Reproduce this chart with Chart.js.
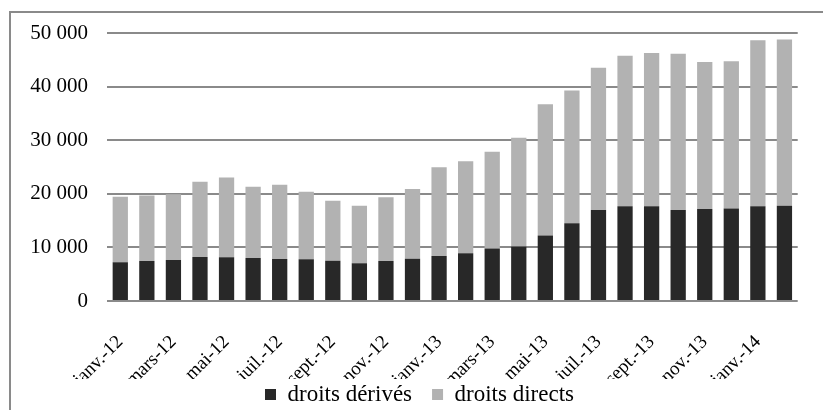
<!DOCTYPE html>
<html><head><meta charset="utf-8">
<script src="https://cdn.jsdelivr.net/npm/chart.js@4"></script>
<style>
html,body{margin:0;padding:0;background:#fff;}
#wrap{position:relative;width:823px;height:410px;overflow:hidden;}
#frame{position:absolute;left:9px;top:11px;width:830px;height:420px;border-left:2px solid #8a8a8a;border-top:2px solid #8a8a8a;}
canvas{position:absolute;left:0;top:0;}
</style></head>
<body><div id="wrap"><div id="frame"></div><canvas id="c" width="823" height="410"></canvas></div>
<script>
const categories = ["janv.-12","févr.-12","mars-12","avr.-12","mai-12","juin-12","juil.-12","août-12","sept.-12","oct.-12","nov.-12","déc.-12",
"janv.-13","févr.-13","mars-13","avr.-13","mai-13","juin-13","juil.-13","août-13","sept.-13","oct.-13","nov.-13","déc.-13","janv.-14","févr.-14"];
const droitsDerives = [7250,7440,7630,8210,8150,8020,7820,7770,7510,7060,7440,7900,8400,8910,9800,10190,12210,14500,16990,17690,17690,16990,17180,17250,17690,17750];
const totals = [19470,19660,19920,22270,23030,21320,21700,20360,18700,17750,19350,20880,24940,26090,27860,30480,36720,39260,43510,45740,46260,46130,44600,44730,48660,48800];
const droitsDirects = totals.map((t,i)=>t-droitsDerives[i]);
const yTicks = [0,10000,20000,30000,40000,50000];
const FONT = "'Liberation Serif','Times New Roman',serif";

const legendShift = {
  id:'legendShift',
  afterLayout(chart){
    const lg = chart.legend;
    if (!lg) return;
    lg.top -= 16; lg.bottom -= 16;
    lg.left += 14.5; lg.right += 14.5;
  }
};

new Chart(document.getElementById('c'), {
  type:'bar',
  data:{labels:categories, datasets:[
    {label:'droits dérivés', data:droitsDerives, backgroundColor:'#282828', borderWidth:0},
    {label:'droits directs', data:droitsDirects, backgroundColor:'#b2b2b2', borderWidth:0}
  ]},
  plugins:[legendShift],
  options:{
    responsive:false, animation:false,
    layout:{padding:{left:10,right:23,top:33,bottom:-22}},
    datasets:{bar:{categoryPercentage:1, barPercentage:0.575}},
    plugins:{
      legend:{position:'bottom', labels:{font:{family:FONT,size:23}, color:'#000', boxWidth:11, boxHeight:11, padding:20, useBorderRadius:false}},
      tooltip:{enabled:false}
    },
    scales:{
      x:{stacked:true, grid:{display:false}, border:{display:false},
        afterFit:(s)=>{s.height=78;},
        ticks:{autoSkip:false, minRotation:45, maxRotation:45, color:'#000', font:{family:FONT,size:19}, padding:22,
          callback:function(v,i){return i%2===0? categories[i] : '';}}},
      y:{stacked:true, min:0, max:50000,
        afterBuildTicks:(s)=>{s.ticks = yTicks.map(v=>({value:v}));},
        afterFit:(s)=>{s.width=97;},
        grid:{color:'#8a8a8a', lineWidth:2, drawTicks:false}, border:{display:false},
        ticks:{color:'#000', font:{family:FONT,size:21}, padding:19,
          callback:(v)=> v===0 ? '0' : String(v).replace(/\B(?=(\d{3})+(?!\d))/g,' ')}}
    }
  }
});
</script></body></html>
